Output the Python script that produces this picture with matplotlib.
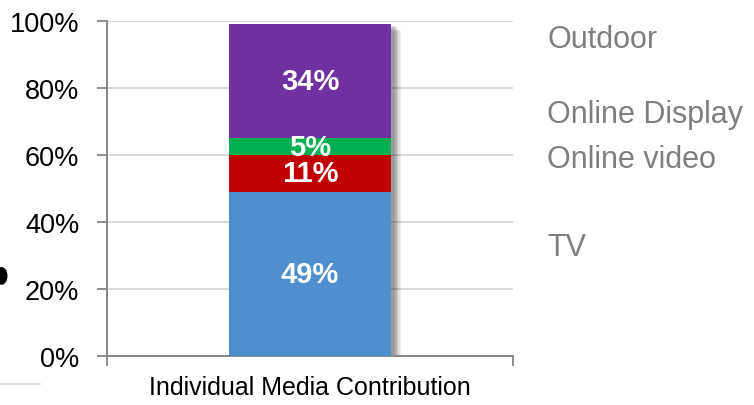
import matplotlib.pyplot as plt
import matplotlib.patheffects as pe
from matplotlib.patches import Ellipse
from matplotlib.lines import Line2D

category = "Individual Media Contribution"
channels = ["TV", "Online video", "Online Display", "Outdoor"]
shares = [0.49, 0.11, 0.05, 0.34]
colors = ["#4F8FCD", "#C00000", "#00B050", "#7030A0"]
y_ticks = [0, 0.2, 0.4, 0.6, 0.8, 1.0]
y_tick_labels = ["0%", "20%", "40%", "60%", "80%", "100%"]
# where the channel names sit on the right (data units)
name_y = [0.325, 0.588, 0.722, 0.947]

narrow = ["Liberation Sans Narrow", "Liberation Sans", "DejaVu Sans"]
plain = ["Liberation Sans", "DejaVu Sans"]

fig = plt.figure(figsize=(7.54, 4.06), dpi=100)
ax = fig.add_axes([0.1419, 0.1207, 0.5385, 0.8251])

# soft shadow behind the whole stack
total = sum(shares)
for k, a in enumerate([0.05, 0.07, 0.09, 0.11, 0.13]):
    ax.bar(0, total, width=0.4, color="none", zorder=1,
           path_effects=[pe.SimplePatchShadow(offset=(7 - k, -5 + k),
                                              shadow_rgbFace="black",
                                              alpha=a)])

bottom = 0
for share, col in zip(shares, colors):
    ax.bar(0, share, width=0.4, bottom=bottom, color=col, zorder=3)
    ax.text(0, bottom + share / 2, f"{share * 100:.0f}%", ha="center",
            va="center", color="white", fontsize=21, fontweight="bold",
            family=narrow, zorder=4)
    bottom += share

for name, yy in zip(channels, name_y):
    ax.text(1.0837, yy, name, transform=ax.get_yaxis_transform(),
            ha="left", va="center", fontsize=22, color="#7F7F7F",
            family=plain, clip_on=False)

ax.set_xlim(-0.5, 0.5)
ax.set_ylim(0, 1)
ax.set_yticks(y_ticks)
ax.set_yticklabels(y_tick_labels, family=narrow, fontsize=19.5)
ax.yaxis.grid(True, color="#D9D9D9", linewidth=1.4, zorder=0)
ax.set_axisbelow(True)

ax.set_xticks([0])
ax.set_xticklabels([category], family=narrow, fontsize=18)
ax.set_xticks([-0.5, 0.5], minor=True)
ax.tick_params(axis="x", which="major", length=0, pad=14)
ax.tick_params(axis="x", which="minor", length=7, width=1.3, color="#868686")
ax.tick_params(axis="y", length=7, width=1.3, color="#868686", pad=13)

for side in ["top", "right"]:
    ax.spines[side].set_visible(False)
for side in ["left", "bottom"]:
    ax.spines[side].set_color("#868686")
    ax.spines[side].set_linewidth(1.4)

# bits of neighbouring content cut off at the left edge
fig.patches.append(Ellipse((0.002, 0.318), 0.014, 0.04, color="black",
                           transform=fig.transFigure, figure=fig))
fig.lines.append(Line2D([0, 0.053], [0.052, 0.052], color="#D9D9D9",
                        linewidth=1.2, transform=fig.transFigure, figure=fig))

fig.savefig("out.png", dpi=100)
